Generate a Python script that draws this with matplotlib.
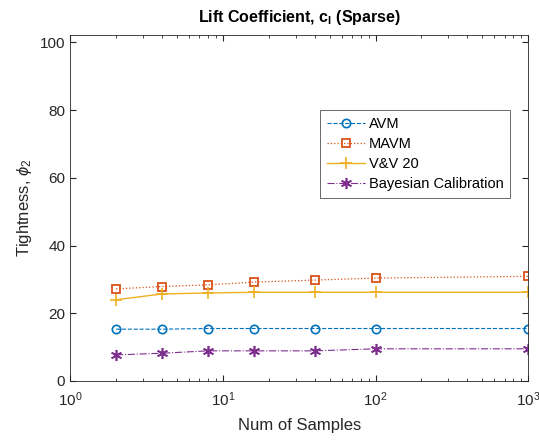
import numpy as np
import matplotlib.pyplot as plt

plt.rcParams['font.family'] = ['Liberation Sans', 'DejaVu Sans']
plt.rcParams['mathtext.fontset'] = 'custom'
plt.rcParams['mathtext.rm'] = 'Liberation Sans'
plt.rcParams['mathtext.it'] = 'Liberation Sans:italic'

# data
samples = [2, 4, 8, 16, 40, 100, 1000]
avm = [15.3, 15.3, 15.5, 15.5, 15.5, 15.5, 15.5]
mavm = [27.2, 27.9, 28.4, 29.2, 29.8, 30.4, 30.9]
vv20 = [24.0, 25.7, 26.0, 26.2, 26.2, 26.2, 26.2]
bayes = [7.7, 8.2, 8.9, 8.9, 8.9, 9.5, 9.5]

fig = plt.figure(figsize=(5.39, 4.43), dpi=100)
ax = fig.add_axes([0.13, 0.14, 0.85, 0.781])

ax.plot(samples, avm, '--o', color=(0, 0.447, 0.741), lw=0.8, ms=6,
        mfc='none', mew=1.2, label='AVM')
ax.plot(samples, mavm, ':s', color=(0.85, 0.325, 0.098), lw=0.9, ms=6,
        mfc='none', mew=1.3, label='MAVM')
ax.plot(samples, vv20, '-+', color=(0.929, 0.694, 0.125), lw=1.0, ms=8,
        mew=1.2, label='V&V 20')
# asterisk marker like matlab's '*'
ax.plot(samples, bayes, '-.', marker=(6, 2, 0), color=(0.494, 0.184, 0.556),
        lw=0.8, ms=8, mew=1.2, label='Bayesian Calibration')

ax.set_xscale('log')
ax.set_xlim(1, 1000)
ax.set_ylim(0, 102.2)
ax.set_yticks([0, 20, 40, 60, 80, 100])

for s in ax.spines.values():
    s.set_color('#262626')
    s.set_linewidth(0.6)
ax.tick_params(which='both', direction='in', top=True, right=True,
               colors='#262626', labelsize=11)
ax.tick_params(which='major', length=4)
ax.tick_params(which='minor', length=2)
ax.tick_params(axis='x', pad=7)

ax.set_xlabel('Num of Samples', fontsize=12, color='#262626', labelpad=6)
ax.set_ylabel(r'Tightness, $\phi_2$', fontsize=12, color='#262626')
ax.set_title(r'Lift Coefficient, c$_\mathregular{l}$ (Sparse)', fontsize=11.5,
             fontweight='bold', pad=9)

leg = ax.legend(loc='upper left', bbox_to_anchor=(313/539, 1-103/443),
                bbox_transform=fig.transFigure, fancybox=False,
                edgecolor='#262626', fontsize=10.5, handlelength=2.6,
                borderpad=0.45, labelspacing=0.42, handletextpad=0.3)
leg.get_frame().set_linewidth(0.6)

fig.savefig('out.png', dpi=100)
